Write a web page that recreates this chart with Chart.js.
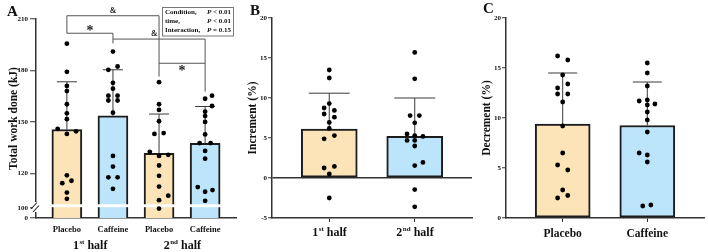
<!DOCTYPE html>
<html>
<head>
<meta charset="utf-8">
<script src="https://cdn.jsdelivr.net/npm/chart.js@4.4.0/dist/chart.umd.min.js"></script>
<style>
  body { margin: 0; background: #fff; width: 708px; height: 252px; overflow: hidden; position: relative; }
  canvas { position: absolute; top: 0; }
  #cA { left: 0; }
  #cB { left: 240px; }
  #cC { left: 480px; }
</style>
</head>
<body>
<canvas id="cA" width="240" height="252"></canvas>
<canvas id="cB" width="240" height="252"></canvas>
<canvas id="cC" width="228" height="252"></canvas>
<script>
const FONT = "'Liberation Serif', 'Times New Roman', serif";
const PEACH = '#fde3b8';
const SKY = '#bce5fb';

// Panel A - total work done (kJ)
const workCats = ['Placebo', 'Caffeine', 'Placebo', 'Caffeine'];
const workHalves = ['1st half', '2nd half'];
const workMean = [145.6, 153.6, 131.7, 137.5];
const workSD = [27.8, 26.8, 22.9, 21.5];
const workPla1 = [195.6, 179.2, 171, 168, 160.3, 155, 151.6, 146, 143, 144.5, 118.9, 114.3, 115.7, 108.8, 105.2];
const workPla1Jit = [0, 0, 0, 0, 0, 0, 0, -2, 0, 2, 0, -1, 1, 0, 0];
const workCaf1 = [191, 182.3, 180.4, 172.8, 169.4, 165.3, 165.3, 162.5, 162.5, 155.4, 130.2, 124, 117.7, 117.7, 111];
const workCaf1Jit = [0, 1, -1, 0, 0, -1, 1, -1, 1, 0, 0, 0, -1, 1, 0];
const workPla2 = [173.2, 160.3, 157, 150.4, 143, 143.5, 132.6, 130.2, 130.8, 124.6, 118.6, 112.3, 107, 104.4, 99.5];
const workPla2Jit = [0, 0, 0, 0, -1, 1, -2, 0, 2, 0, 0, 0, 2, 0, 0];
const workCaf2 = [163.5, 165.3, 159.3, 156, 153.4, 150, 142.7, 137.7, 137.7, 133.1, 128.6, 112, 109.3, 110.3, 104];
const workCaf2Jit = [0, 1.5, 1.5, 0, 0, 0, 0, -1.2, 1.2, 0, 0, -1.6, 0, 1.6, 0];
const workTicks = [94, 100, 120, 150, 180, 210];
const workTickText = ['0', '100', '120', '150', '180', '210'];
const workBreak = [100.3, 102];
const workBrackets = [
  { from: 0, to: 2, y: 211.9, legFrom: 201.7, legTo: 176.4, mark: '&', at: 1, above: true },
  { from: 0, to: 1, y: 201.7, legFrom: 201.7, legTo: 195.8, mark: '*', at: 0.5, above: true },
  { from: 1, to: 3, y: 198.3, legFrom: 198.3, legTo: 184.2, mark: '&', at: 1.9, above: true },
  { from: 2, to: 3, y: 184.2, legFrom: 184.2, legTo: 167.6, mark: '*', at: 2.5, above: false }
];
const workStats = [['Condition,', '< 0.01'], ['time,', '< 0.01'], ['Interaction,', '= 0.15']];

// Panel B - increment (%)
const incCats = ['1st half', '2nd half'];
const incMean = [6.1, 5.2];
const incSD = [4.5, 4.8];
const inc1 = [13.5, 12.5, 9.3, 8.75, 8.45, 8.0, 7.6, 6.95, 6.2, 4.9, 5.3, 1.25, 1.45, 0.5, -2.5];
const inc1Jit = [0, 0, 0, -1, 1, -1, 1, 0, 0, -1, 1, -1, 1, 0, 0];
const inc2 = [15.7, 12.4, 7.8, 7.8, 6.9, 5.5, 5.3, 5.2, 4.7, 4.7, 4.0, 1.95, 1.55, -1.45, -3.6];
const inc2Jit = [0, 0, -0.9, 0.9, 0, -1.5, 0, 1.6, -1.5, 0, 0, 1.6, 0, 0, 0];
const incTicks = [-5, 0, 5, 10, 15, 20];

// Panel C - decrement (%)
const decCats = ['Placebo', 'Caffeine'];
const decMean = [9.4, 9.25];
const decSD = [5.1, 4.35];
const decPla = [16.2, 15.8, 14.3, 13.4, 13.0, 12.4, 12.4, 11.6, 9.2, 6.5, 5.3, 4.8, 2.8, 2.0, 2.25];
const decPlaJit = [-1, 1, 0, 1, -1, -1, 1, 0, 0, 0, -1, 1, 0, -1, 1];
const decCaf = [15.5, 14.5, 13.2, 11.7, 11.8, 11.4, 11.3, 10.6, 9.8, 8.6, 6.5, 6.3, 5.6, 1.2, 1.3];
const decCafJit = [0, 0, 0, -1.6, 0, 1.5, 0, 0, 0, 0, -1.6, 0, 0, -0.9, 0.7];
const decTicks = [0, 5, 10, 15, 20];

function drawSup(ctx, text, cx, cy, size) {
  const m = text.match(/^(\d+)(st|nd|rd|th)(.*)$/);
  const base = `bold ${size}px ${FONT}`;
  const sup = `bold ${Math.round(size * 0.62)}px ${FONT}`;
  ctx.font = base;
  const w1 = ctx.measureText(m[1]).width, w3 = ctx.measureText(m[3]).width;
  ctx.font = sup;
  const w2 = ctx.measureText(m[2]).width;
  let x = cx - (w1 + w2 + w3) / 2;
  ctx.textAlign = 'left';
  ctx.textBaseline = 'middle';
  ctx.font = base; ctx.fillText(m[1], x, cy); x += w1;
  ctx.font = sup; ctx.fillText(m[2], x + 0.5, cy - size * 0.33); x += w2 + 0.5;
  ctx.font = base; ctx.fillText(m[3], x, cy);
}

function panelPlugin(p) {
  return {
    id: 'panel' + p.letter,
    afterDatasetDraw(chart, args) {
      if (args.index !== 0) return;
      const ctx = chart.ctx, xs = chart.scales.x, ys = chart.scales.y, ca = chart.chartArea;
      ctx.save();
      ctx.strokeStyle = '#3a3a3a';
      ctx.lineWidth = 1;
      p.means.forEach((m, i) => {
        const x = xs.getPixelForValue(i);
        const y0 = ys.getPixelForValue(m), y1 = ys.getPixelForValue(m + p.sds[i]);
        ctx.beginPath();
        ctx.moveTo(x, y0); ctx.lineTo(x, y1);
        ctx.moveTo(x - p.capW / 2, y1); ctx.lineTo(x + p.capW / 2, y1);
        ctx.stroke();
      });
      if (p.breakBand) {
        const a = ys.getPixelForValue(p.breakBand[1]), b = ys.getPixelForValue(p.breakBand[0]);
        ctx.fillStyle = '#fff';
        ctx.fillRect(ca.left + 1, a, ca.right - ca.left - 1, b - a);
      }
      ctx.restore();
    },
    afterDraw(chart) {
      const ctx = chart.ctx, xs = chart.scales.x, ys = chart.scales.y, ca = chart.chartArea;
      ctx.save();
      ctx.fillStyle = '#111';
      ctx.font = `bold 15px ${FONT}`;
      ctx.textAlign = 'left';
      ctx.textBaseline = 'middle';
      ctx.fillText(p.letter, p.letterPos[0], p.letterPos[1]);

      if (p.breakBand) {
        // axis break marks
        ctx.fillStyle = '#fff';
        ctx.fillRect(ca.left - 3, 202, 6, 10);
        ctx.strokeStyle = '#222';
        ctx.lineWidth = 1.1;
        ctx.beginPath();
        ctx.moveTo(ca.left - 5, 209); ctx.lineTo(ca.left + 1, 202.5);
        ctx.moveTo(ca.left - 3, 212); ctx.lineTo(ca.left + 3, 205.5);
        ctx.stroke();
      }

      if (p.brackets) {
        ctx.strokeStyle = '#555';
        ctx.lineWidth = 1;
        p.brackets.forEach(b => {
          const x1 = xs.getPixelForValue(b.from), x2 = xs.getPixelForValue(b.to);
          const y = ys.getPixelForValue(b.y);
          ctx.beginPath();
          ctx.moveTo(x1, ys.getPixelForValue(b.legFrom)); ctx.lineTo(x1, y);
          ctx.lineTo(x2, y); ctx.lineTo(x2, ys.getPixelForValue(b.legTo));
          ctx.stroke();
          ctx.fillStyle = '#222';
          const star = b.mark === '*';
          ctx.font = `bold ${star ? 14 : 8}px ${FONT}`;
          ctx.textAlign = 'center';
          ctx.textBaseline = 'middle';
          const ly = b.above ? y - (star ? 1.5 : 5) : y + (star ? 8.5 : 5);
          ctx.fillText(b.mark, xs.getPixelForValue(b.at), ly);
        });
      }

      if (p.stats) {
        ctx.strokeStyle = '#777';
        ctx.lineWidth = 1;
        ctx.strokeRect(162.5, 7.5, 71, 28.5);
        ctx.fillStyle = '#111';
        ctx.textBaseline = 'middle';
        p.stats.forEach((s, i) => {
          const y = 12 + i * 9;
          ctx.font = `bold 7px ${FONT}`;
          ctx.textAlign = 'left';
          ctx.fillText(s[0], 165, y);
          ctx.textAlign = 'right';
          ctx.fillText(s[1], 231, y);
          const w = ctx.measureText(s[1]).width;
          ctx.font = `italic bold 7px ${FONT}`;
          ctx.fillText('P ', 231 - w, y);
        });
      }

      if (p.groupLabels) {
        ctx.fillStyle = '#111';
        p.groupLabels.forEach((g, i) => drawSup(ctx, g, xs.getPixelForValue(i * 2 + 0.5), 246, 12));
      }
      if (p.supTicks) {
        ctx.fillStyle = '#111';
        p.cats.forEach((c, i) => drawSup(ctx, c, xs.getPixelForValue(i), 233, 12));
      }
      ctx.restore();
    }
  };
}

function makePanel(id, p) {
  const n = p.cats.length;
  const pts = [];
  p.points.forEach((vals, i) => vals.forEach((v, k) => pts.push({ x: i + p.jit[i][k] * p.jitStep, y: v })));
  const bars = p.means.map((m, i) => ({ x: i, y: m }));
  const zeroLine = !!p.zeroLine;
  return new Chart(document.getElementById(id), {
    type: 'bar',
    data: {
      datasets: [
        {
          type: 'bar', data: bars, backgroundColor: p.fills, borderColor: '#1c1c1c',
          borderWidth: 2, borderSkipped: false, barThickness: p.barW, order: 2
        },
        {
          type: 'scatter', data: pts, backgroundColor: '#000', borderWidth: 0,
          pointRadius: 2.4, order: 1
        }
      ]
    },
    options: {
      responsive: false,
      animation: false,
      devicePixelRatio: 1,
      layout: { padding: { top: p.padTop, right: p.padRight, left: 0, bottom: 0 } },
      plugins: { legend: { display: false }, tooltip: { enabled: false } },
      scales: {
        x: {
          type: 'linear', min: -0.67, max: n - 1 + 0.67, offset: false,
          afterBuildTicks: s => { s.ticks = p.cats.map((c, i) => ({ value: i })); },
          afterFit: s => { s.height = 34; },
          border: { color: '#333', width: 1.5 },
          grid: { offset: false, drawOnChartArea: false, drawTicks: p.xTickMarks, tickLength: 4, tickColor: '#333', tickWidth: 1 },
          ticks: {
            autoSkip: false, maxRotation: 0, padding: p.xPad, color: '#111',
            font: { family: FONT, weight: 'bold', size: p.xFont },
            callback: v => p.supTicks ? '' : p.cats[Math.round(v)]
          }
        },
        y: {
          type: 'linear', min: p.yTicks[0], max: p.yTicks[p.yTicks.length - 1],
          afterBuildTicks: s => { s.ticks = p.yTicks.map(v => ({ value: v })); },
          afterFit: s => { s.width = p.axisW; },
          border: { color: '#333', width: 1.5 },
          grid: {
            drawOnChartArea: zeroLine,
            color: c => (zeroLine && c.tick && c.tick.value === 0) ? '#333' : 'rgba(0,0,0,0)',
            lineWidth: 1.5, tickLength: p.yTickLen, tickColor: '#333', tickWidth: 1
          },
          ticks: {
            padding: p.yPad, color: '#111',
            font: { family: FONT, weight: 'bold', size: 7 },
            callback: (v, i) => p.yText ? p.yText[i] : String(v)
          },
          title: {
            display: true, text: p.yTitle, color: '#111',
            font: { family: FONT, weight: 'bold', size: 11.5 },
            padding: { top: p.titlePad, bottom: 0 }
          }
        }
      }
    },
    plugins: [panelPlugin(p)]
  });
}

makePanel('cA', {
  letter: 'A', letterPos: [7, 12.5],
  cats: workCats, means: workMean, sds: workSD,
  points: [workPla1, workCaf1, workPla2, workCaf2],
  jit: [workPla1Jit, workCaf1Jit, workPla2Jit, workCaf2Jit], jitStep: 0.1,
  fills: [PEACH, SKY, PEACH, SKY], barW: 30, capW: 20,
  yTicks: workTicks, yText: workTickText, yTitle: 'Total work done (kJ)',
  axisW: 36, padTop: 19, padRight: 4, yTickLen: 6, yPad: 2, titlePad: 7,
  xTickMarks: false, xPad: 7, xFont: 8.5,
  breakBand: workBreak, brackets: workBrackets, stats: workStats, groupLabels: workHalves
});

makePanel('cB', {
  letter: 'B', letterPos: [10, 11.5],
  cats: incCats, means: incMean, sds: incSD,
  points: [inc1, inc2], jit: [inc1Jit, inc2Jit], jitStep: 0.06,
  fills: [PEACH, SKY], barW: 56, capW: 41,
  yTicks: incTicks, yTitle: 'Increment (%)', zeroLine: true,
  axisW: 32, padTop: 18, padRight: 8, yTickLen: 4, yPad: 1, titlePad: 6,
  xTickMarks: true, xPad: 4, xFont: 12, supTicks: true
});

makePanel('cC', {
  letter: 'C', letterPos: [3, 9.5],
  cats: decCats, means: decMean, sds: decSD,
  points: [decPla, decCaf], jit: [decPlaJit, decCafJit], jitStep: 0.06,
  fills: [PEACH, SKY], barW: 55, capW: 29,
  yTicks: decTicks, yTitle: 'Decrement (%)',
  axisW: 26, padTop: 18, padRight: 1, yTickLen: 4, yPad: 1, titlePad: 0.5,
  xTickMarks: true, xPad: 5, xFont: 11.5
});
</script>
</body>
</html>
